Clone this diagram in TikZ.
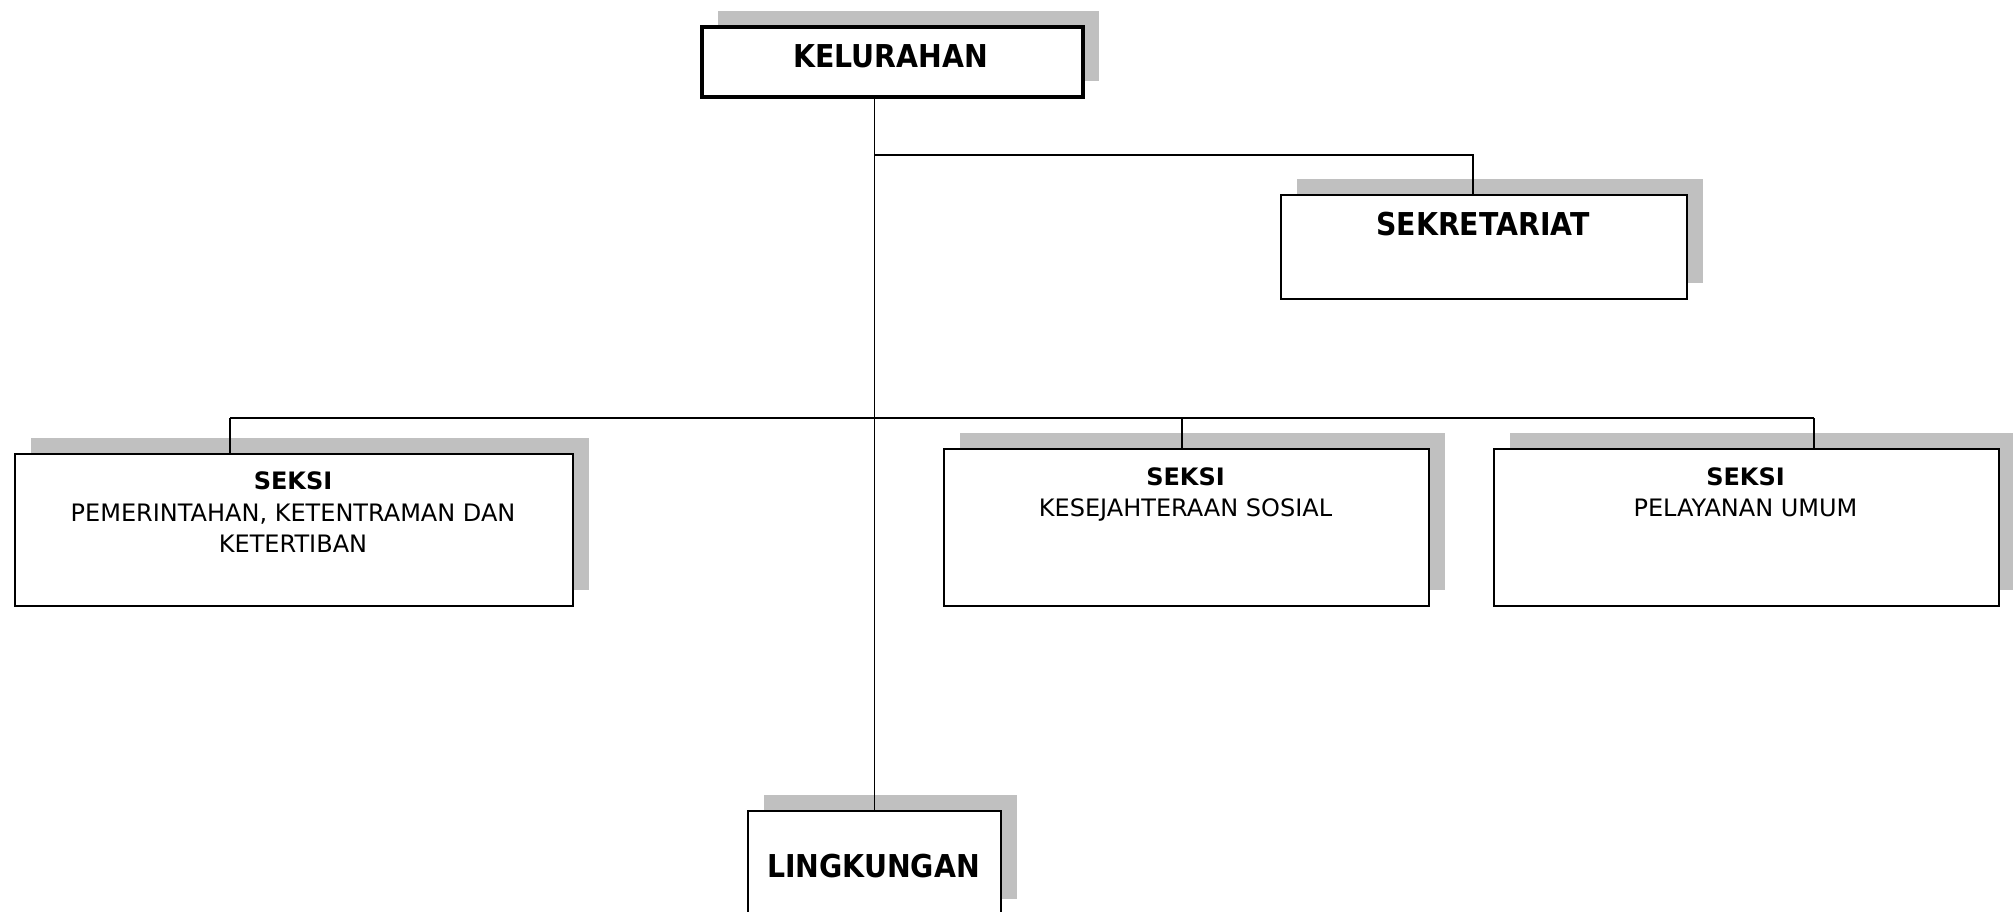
\documentclass[tikz,border=0pt]{standalone}
\usepackage{fontspec}
\setmainfont{DejaVu Sans}
\newfontfamily\bigfont{DejaVu Sans}[FakeStretch=0.9]
\usetikzlibrary{shadows}
\definecolor{shgray}{RGB}{192,192,192}
\begin{document}
\begin{tikzpicture}[x=1pt,y=-1pt,
  box/.style={draw, line width=2pt, fill=white, inner sep=0pt, anchor=north west,
    drop shadow={shadow xshift=16pt, shadow yshift=16pt, fill=shgray, opacity=1}},
  bigt/.style={font=\bigfont\bfseries\fontsize{31.5}{36}\selectfont, inner sep=0pt, anchor=base},
  headt/.style={font=\bfseries\fontsize{24}{31.5}\selectfont, inner sep=0pt, anchor=base},
  bodyt/.style={font=\fontsize{24}{31.5}\selectfont, inner sep=0pt, align=center, anchor=north},
  conn/.style={line width=1.5pt}]
\useasboundingbox (0,0) rectangle (2013,911);
\clip (0,0) rectangle (2013,911);
% boxes
\node[box, line width=4pt, minimum width=381pt, minimum height=70pt] (kel) at (700,25) {};
\node[box, minimum width=406pt, minimum height=104pt] (sek) at (1280,194) {};
\node[box, minimum width=558pt, minimum height=152pt] (s1) at (14,453) {};
\node[box, minimum width=485pt, minimum height=157pt] (s2) at (943,448) {};
\node[box, minimum width=505pt, minimum height=157pt] (s3) at (1493,448) {};
\node[box, minimum width=253pt, minimum height=104pt] (lin) at (747,810) {};
% texts
\node[bigt] (kelt) at (890.5,67) {KELURAHAN};
\node[bigt] (sekt) at (1483,235) {SEKRETARIAT};
\node[bigt] (lint) at (873.5,877) {LINGKUNGAN};
\node[headt] (s1h) at (293,489) {SEKSI};
\node[bodyt] (s1b) at (293,503.5) {PEMERINTAHAN, KETENTRAMAN DAN\\KETERTIBAN};
\node[headt] (s2h) at (1185.5,485) {SEKSI};
\node[bodyt] (s2b) at (1185.5,498.5) {KESEJAHTERAAN SOSIAL};
\node[headt] (s3h) at (1745.5,485) {SEKSI};
\node[bodyt] (s3b) at (1745.5,498.5) {PELAYANAN UMUM};
% connectors
\coordinate (jS) at (1473,155);
\coordinate (bL) at (230,418);
\coordinate (bM) at (1182,418);
\coordinate (bR) at (1814,418);
\draw[conn] (lin.north |- kel.south) -- (lin.north);
\draw[conn] (lin.north |- jS) -- (jS) -- (jS |- sek.north);
\draw[conn] (bL) -- (bR);
\draw[conn] (bL) -- (bL |- s1.north);
\draw[conn] (bM) -- (bM |- s2.north);
\draw[conn] (bR) -- (bR |- s3.north);
\end{tikzpicture}
\end{document}
